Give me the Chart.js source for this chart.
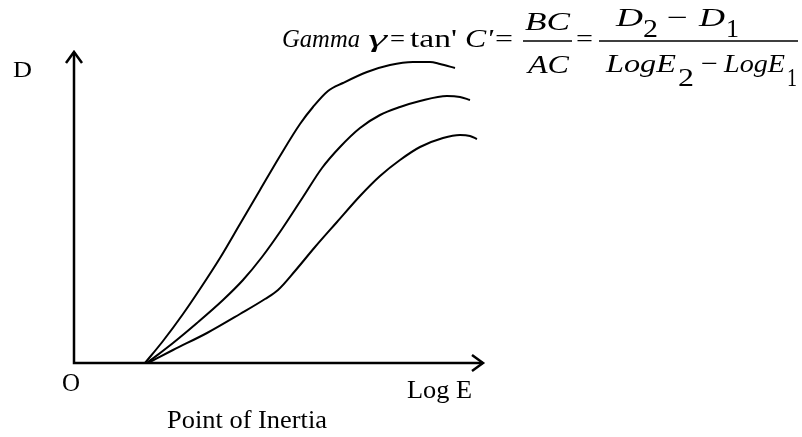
<!DOCTYPE html>
<html>
<head>
<meta charset="utf-8">
<script src="https://cdn.jsdelivr.net/npm/chart.js@4/dist/chart.umd.min.js"></script>
<style>
  html, body { margin: 0; padding: 0; background: #ffffff; }
  #wrap { width: 802px; height: 437px; }
</style>
</head>
<body>
<div id="wrap"><canvas id="chart" width="802" height="437"></canvas></div>
<script>
// Characteristic (H&D) curves: density D against log exposure, three emulsions
const steepLogE  = [0.71, 0.89, 1.09, 1.26, 1.46, 1.66, 1.86, 2.06, 2.26, 2.39, 2.54, 2.69, 2.93, 3.16, 3.39, 3.56, 3.66, 3.81];
const steepD     = [0.00, 0.22, 0.49, 0.74, 1.05, 1.39, 1.73, 2.07, 2.39, 2.56, 2.72, 2.80, 2.91, 2.98, 3.01, 3.01, 2.99, 2.95];

const mediumLogE = [0.73, 0.99, 1.23, 1.49, 1.69, 1.88, 2.08, 2.29, 2.48, 2.66, 2.86, 3.06, 3.26, 3.46, 3.73, 3.86, 3.96];
const mediumD    = [0.00, 0.20, 0.40, 0.63, 0.83, 1.06, 1.34, 1.66, 1.95, 2.16, 2.35, 2.48, 2.56, 2.62, 2.67, 2.66, 2.63];

const softLogE   = [0.74, 0.99, 1.33, 1.66, 1.91, 2.04, 2.21, 2.41, 2.63, 2.86, 3.06, 3.26, 3.46, 3.69, 3.86, 3.96, 4.03];
const softD      = [0.00, 0.13, 0.30, 0.49, 0.64, 0.73, 0.92, 1.16, 1.41, 1.67, 1.87, 2.03, 2.16, 2.25, 2.28, 2.27, 2.24];

// Axis extents (the arrow tips)
const logEMax = 4.09;
const densityMax = 3.11;

function toPoints(xs, ys) { return xs.map((x, i) => ({ x: x, y: ys[i] })); }

const SERIF = '"Liberation Serif", "Times New Roman", serif';

// Draw text squeezed/stretched horizontally into [left, right]
function fitText(ctx, text, font, left, right, baseline) {
  ctx.save();
  ctx.font = font;
  ctx.textAlign = 'left';
  ctx.textBaseline = 'alphabetic';
  const w = ctx.measureText(text).width;
  const sx = (right - left) / w;
  ctx.translate(left, baseline);
  ctx.scale(sx, 1);
  ctx.fillText(text, 0, 0);
  ctx.restore();
}

const axesPlugin = {
  id: 'arrowAxes',
  beforeDatasetsDraw(chart) {
    const { ctx, scales } = chart;
    const x0 = scales.x.getPixelForValue(0);
    const y0 = scales.y.getPixelForValue(0);
    const xEnd = scales.x.getPixelForValue(logEMax);
    const yEnd = scales.y.getPixelForValue(densityMax);
    ctx.save();
    ctx.strokeStyle = '#000';
    ctx.lineWidth = 2.5;
    ctx.lineCap = 'butt';
    ctx.lineJoin = 'miter';
    ctx.beginPath();
    ctx.moveTo(x0, y0);
    ctx.lineTo(xEnd, y0);
    ctx.moveTo(x0, y0 + 1.2);
    ctx.lineTo(x0, yEnd);
    ctx.stroke();
    // open arrowheads
    ctx.beginPath();
    ctx.moveTo(xEnd - 11, y0 - 8);
    ctx.lineTo(xEnd, y0);
    ctx.lineTo(xEnd - 11, y0 + 8);
    ctx.moveTo(x0 - 8, yEnd + 11);
    ctx.lineTo(x0, yEnd);
    ctx.lineTo(x0 + 8, yEnd + 11);
    ctx.stroke();
    ctx.restore();
  }
};

const textPlugin = {
  id: 'labels',
  afterDraw(chart) {
    const ctx = chart.ctx;
    ctx.save();
    ctx.fillStyle = '#000';
    ctx.strokeStyle = '#000';
    const up = (s) => s + 'px ' + SERIF;
    const it = (s) => 'italic ' + s + 'px ' + SERIF;

    // axis labels
    fitText(ctx, 'D', up(23), 13, 32, 77);
    fitText(ctx, 'O', up(25), 62, 80, 391);
    fitText(ctx, 'Log E', up(26), 407, 472, 398);
    fitText(ctx, 'Point of Inertia', up(25), 167, 327, 428);

    // gamma formula
    fitText(ctx, 'Gamma', it(26), 282, 360, 47);
    fitText(ctx, 'γ', it(26), 368, 387, 47);
    fitText(ctx, '=', up(26), 390, 405, 47);
    fitText(ctx, "tan'", up(26), 410, 457, 47);
    fitText(ctx, "C'", it(26), 465, 493, 47);
    fitText(ctx, '=', up(26), 495, 513, 47);

    fitText(ctx, 'BC', it(26), 525, 570, 30);
    fitText(ctx, 'AC', it(26), 528, 569, 73);
    fitText(ctx, '=', up(26), 576, 593, 47);

    fitText(ctx, 'D', it(26), 616, 643, 26);
    fitText(ctx, '2', up(26), 643, 658, 37);
    fitText(ctx, '−', up(26), 667, 688, 26);
    fitText(ctx, 'D', it(26), 699, 725, 26);
    fitText(ctx, '1', up(26), 726, 739, 37);

    fitText(ctx, 'LogE', it(26), 606, 676, 72);
    fitText(ctx, '2', up(26), 678, 694, 86);
    fitText(ctx, '−', up(26), 701, 718, 72);
    fitText(ctx, 'LogE', it(26), 724, 785, 72);
    fitText(ctx, '1', up(26), 787, 797, 86);

    ctx.lineWidth = 1.5;
    ctx.beginPath();
    ctx.moveTo(523, 41); ctx.lineTo(572, 41);
    ctx.moveTo(599, 41); ctx.lineTo(798, 41);
    ctx.stroke();
    ctx.restore();
  }
};

const curveStyle = {
  borderColor: '#000',
  borderWidth: 2,
  pointRadius: 0,
  showLine: true,
  fill: false,
  cubicInterpolationMode: 'monotone',
  clip: false
};

new Chart(document.getElementById('chart'), {
  type: 'scatter',
  data: {
    datasets: [
      Object.assign({ label: 'Steep', data: toPoints(steepLogE, steepD) }, curveStyle),
      Object.assign({ label: 'Medium', data: toPoints(mediumLogE, mediumD) }, curveStyle),
      Object.assign({ label: 'Soft', data: toPoints(softLogE, softD) }, curveStyle)
    ]
  },
  options: {
    responsive: false,
    animation: false,
    devicePixelRatio: 1,
    layout: { padding: { left: 74, top: 52, right: 319, bottom: 74 } },
    plugins: { legend: { display: false }, tooltip: { enabled: false }, title: { display: false } },
    scales: {
      x: { type: 'linear', min: 0, max: logEMax, display: false },
      y: { type: 'linear', min: 0, max: densityMax, display: false }
    }
  },
  plugins: [axesPlugin, textPlugin]
});
</script>
</body>
</html>
